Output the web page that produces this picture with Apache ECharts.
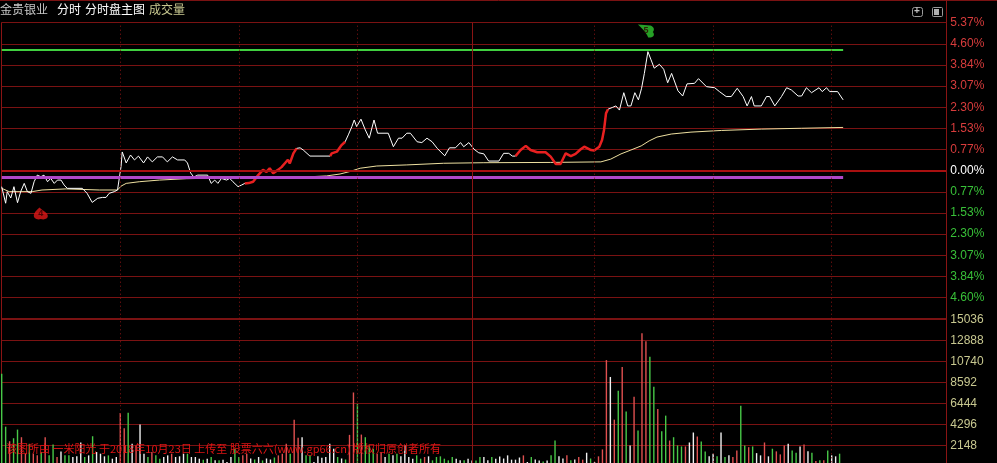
<!DOCTYPE html>
<html><head><meta charset="utf-8">
<script src="https://cdn.jsdelivr.net/npm/echarts@6/dist/echarts.min.js"></script>
<style>html,body{margin:0;padding:0;background:#000;}#c{width:997px;height:463px;}</style>
</head><body><div id="c"></div>
<script>
// ---------- data ----------
const STEP = 0.7671;                       // % per price gridline
const pctLabels = ['0.00%','0.77%','1.53%','2.30%','3.07%','3.84%','4.60%','5.37%'];
const VOL_STEP = 2148;
const volLabels = ['','2148','4296','6444','8592','10740','12888','15036'];
const halfHourLines = [30,60,90,150,180,210];
const middayLine = 119;
const lastMinute = 212.9;
const dayHigh = 4.38;
const refLevel = -0.25;
const headerTexts = ['金贵银业','分时','分时盘主图','成交量'];
const footerText = '该图所由 一米阳光 于2018年10月23日 上传至 股票六六(www.gp66.cn) 版权归原创者所有';

const price = [
[0,-0.58],[1,-1.18],[1.4,-0.76],[2.3,-0.99],[3.1,-0.58],[4.0,-1.16],[4.8,-0.76],[5.7,-0.46],[6.5,-0.76],[7.4,-0.82],[8.2,-0.40],[9.0,-0.16],[9.9,-0.22],[10.7,-0.16],[11.6,-0.40],[12.4,-0.28],[13.3,-0.46],[14.1,-0.34],[15.0,-0.34],[15.8,-0.52],[16.6,-0.64],[20.4,-0.64],[21.6,-0.82],[22.9,-1.15],[24.3,-1.00],[25.5,-0.97],[26.4,-0.97],[27.2,-0.82],[28.5,-0.76],[29.3,-0.70],[30.2,0.15],[30.5,0.68],[31.5,0.28],[32.6,0.57],[33.6,0.39],[34.6,0.53],[35.9,0.28],[36.9,0.50],[38.1,0.32],[39.4,0.50],[40.7,0.50],[41.9,0.32],[43.2,0.50],[44.5,0.39],[46.3,0.39],[47.0,0.28],[47.8,-0.08],[48.6,-0.23],[49.6,-0.16],[52.1,-0.16],[53.0,-0.46],[53.9,-0.34],[54.7,-0.46],[55.6,-0.28],[56.9,-0.34],[57.7,-0.28],[58.5,-0.40],[59.8,-0.58],[60.7,-0.52],[61.5,-0.46],[62.5,-0.45],[63.6,-0.40],[64.9,-0.16],[66.1,0.03],[67.0,-0.04],[67.8,0.09],[68.7,-0.09],[69.9,0.03],[70.8,0.13],[71.7,0.28],[72.4,0.39],[72.9,0.27],[73.8,0.63],[74.6,0.81],[75.5,0.83],[76.3,0.75],[78.0,0.53],[83.1,0.53],[83.5,0.63],[84.8,0.69],[86.0,0.93],[86.9,1.05],[87.7,1.30],[88.6,1.60],[89.2,1.84],[89.8,1.60],[90.9,1.87],[92.0,1.48],[93.0,1.18],[94.2,1.84],[95.1,1.36],[97.8,1.36],[99.1,0.87],[100.4,1.18],[101.3,1.18],[102.5,1.36],[103.4,1.36],[105.1,1.05],[106.3,1.02],[107.6,1.18],[108.9,1.05],[110.2,0.81],[112.1,0.54],[113.3,0.83],[114.8,0.83],[116.1,1.02],[116.9,0.87],[118.2,1.02],[119.5,0.78],[120.7,0.65],[122.0,0.61],[123.2,0.35],[125.8,0.35],[127.0,0.63],[128.3,0.63],[129.2,0.53],[130.0,0.53],[131.3,0.75],[132.6,0.90],[133.8,0.75],[135.5,0.67],[137.6,0.67],[138.9,0.51],[140.2,0.24],[141.4,0.24],[142.7,0.63],[144.0,0.53],[145.2,0.61],[146.5,0.78],[147.4,0.87],[149.1,0.75],[149.9,0.73],[151.2,0.87],[151.9,1.11],[152.4,1.48],[152.9,2.08],[153.4,2.23],[154.6,2.30],[155.4,2.35],[156.3,2.20],[157.4,2.83],[158.4,2.35],[159.2,2.35],[160.2,2.83],[161.1,2.57],[161.9,2.99],[162.6,3.53],[163.5,4.32],[164.3,4.02],[165.1,3.72],[166.4,3.86],[167.5,3.68],[168.5,3.19],[169.5,3.53],[171.1,2.90],[172.3,2.71],[173.4,3.15],[175.3,3.17],[176.3,3.34],[178.3,3.05],[180.4,3.01],[181.6,2.87],[183.3,2.69],[184.6,2.69],[186.1,2.99],[187.6,2.69],[188.6,2.35],[189.7,2.69],[190.4,2.35],[192.2,2.35],[193.5,2.69],[194.3,2.69],[195.6,2.35],[197.3,2.69],[198.6,3.01],[199.8,2.93],[201.5,2.71],[202.4,2.71],[203.6,3.01],[204.9,2.83],[206.8,3.01],[207.6,2.87],[208.7,3.01],[209.5,2.87],[211.5,2.87],[212.9,2.57]
];
const redRanges = [[61.5,74.6],[83.1,86.9],[130.0,153.4]];
const avg = [
[0,-0.64],[1.9,-0.76],[7.7,-0.76],[10.2,-0.70],[16.3,-0.66],[24.7,-0.70],[29.3,-0.70],[30.2,-0.56],[31.5,-0.46],[34.8,-0.40],[39.9,-0.34],[46.7,-0.29],[61.0,-0.25],[73.7,-0.25],[82.2,-0.19],[85.6,-0.12],[88.1,-0.03],[90.7,0.09],[94.9,0.17],[102.5,0.21],[111.8,0.27],[122.0,0.29],[138.9,0.30],[151.6,0.32],[154.1,0.42],[156.7,0.61],[159.2,0.75],[161.8,0.90],[163.8,1.08],[165.8,1.22],[169.4,1.33],[174.4,1.40],[182.1,1.46],[192.2,1.51],[202.4,1.54],[212.9,1.57]
];
const vol = [
9480,4060,2570,2875,3760,2980,1290,2300,1290,1120,
1460,2980,1120,2235,950,1520,1120,1120,950,1020,
2440,950,1120,3080,1460,1290,1020,1120,780,950,
5450,3890,5490,2300,2140,4270,1290,950,1460,1120,
780,950,1120,1290,950,1020,1290,1290,950,950,
780,680,780,950,610,610,680,440,950,1800,
950,1120,1290,800,700,950,600,800,700,900,
1120,1290,2300,1290,4780,2920,2980,1120,1120,440,
1020,880,950,2300,1800,950,800,700,3220,7560,
6370,3250,2980,2140,1800,1290,1460,950,1290,1120,
1290,1020,2140,950,780,1120,780,950,1020,610,
950,1020,780,610,950,780,610,610,780,600,
600,950,950,610,950,780,1000,800,1120,680,
680,900,1120,440,950,700,600,500,600,1120,
2640,1020,800,1120,610,700,950,680,1390,800,
440,1020,1730,10880,9150,4780,7730,10170,5620,2140,
7120,3660,13630,12810,11220,8140,5870,3590,5190,2640,
2980,2140,2035,2035,2440,3460,3050,2540,1525,1020,
1290,1020,3460,950,1120,950,1630,6200,2140,1960,
2035,1350,1120,2440,1020,1800,1530,1220,2140,2300,
1630,1390,2035,2235,1530,1390,540,610,610,1630,
1120,1020,1290
];
const volColor = (
'ggrggrrgrr'+'grggrwggww'+'wgwgwwwgww'+'rrgwrwwgrg'+'gwwrwwwgww'+
'wgwgwgwwwg'+'grrwgwgwwg'+'rrrgrrwggw'+'wwwwwgwgrr'+'grgggrrwgw'+
'gwwwwggrwg'+'gggggwwgww'+'ggwwgwwwww'+'wwrwgwwgwg'+'gwwrgwrrwg'+
'wrrrwrgrgw'+'rgrrggrggr'+'gggrwwrggw'+'wgwgwrrggr'+'gwwrwgrrrw'+
'ggwrwgrgrg'+'wwg');
const signals = [{m:9.9, p:-1.55, c:'#e01818', t:'4'}, {m:163.0, p:5.07, c:'#30c830', t:'5'}];

// ---------- chart ----------
const colorMap = {r:'#e05050', g:'#48c848', w:'#f0f0f0'};
const chart = echarts.init(document.getElementById('c'), null, {renderer:'canvas'});
const GL = 1.7, GR = 50.7;
const vMarks = halfHourLines.map(v => ({xAxis:v, lineStyle:{type:[1,3], color:'#8a1414', width:1}}))
  .concat([{xAxis:middayLine, lineStyle:{type:'solid', color:'#8a1414', width:1}}]);

const series = [
  {type:'line', name:'avg', xAxisIndex:0, yAxisIndex:0, data:avg, showSymbol:false, z:2,
   lineStyle:{color:'#eee0a0', width:1}, animation:false,
   markLine:{silent:true, symbol:'none', label:{show:false}, animation:false,
     data: vMarks.concat([{yAxis:0, lineStyle:{type:'solid', color:'#a81010', width:2}}])}},
  {type:'line', xAxisIndex:0, yAxisIndex:0, data:[[0,refLevel],[lastMinute,refLevel]], showSymbol:false, z:4,
   lineStyle:{color:'#b048c8', width:3}, animation:false},
  {type:'line', xAxisIndex:0, yAxisIndex:0, data:[[0,dayHigh],[lastMinute,dayHigh]], showSymbol:false, z:4,
   lineStyle:{color:'#40d040', width:2}, animation:false},
  {type:'line', name:'price', xAxisIndex:0, yAxisIndex:0, data:price, showSymbol:false, z:3,
   lineStyle:{color:'#ffffff', width:1}, animation:false}
];
redRanges.forEach(r => series.push({type:'line', xAxisIndex:0, yAxisIndex:0, showSymbol:false, z:3,
  data: price.filter(p => p[0] >= r[0] - 1e-9 && p[0] <= r[1] + 1e-9),
  lineStyle:{color:'#e82020', width:2.5}, animation:false}));
series.push({type:'scatter', xAxisIndex:0, yAxisIndex:0, z:6, animation:false,
  data: signals.map(s => ({value:[s.m, s.p], itemStyle:{color:s.c},
    symbol: s.t === '4'
      ? 'path://M2,11 C0,8 2,4 6,0 C8,3 13,5 13,9 C13,12 10,13 7,12 C5,13 3,12 2,11 Z'
      : 'path://M0,0 L11,1 C14,2 15,5 13,7 C15,9 14,12 11,12 L9,12 C8,9 6,6 0,0 Z',
    symbolSize: s.t === '4' ? [14,12] : [16,13]})),
  label:{show:true, position:'inside', formatter:p => signals[p.dataIndex].t, fontSize:9, fontWeight:'bold',
    color:'#300000', fontFamily:'Liberation Sans, Arial'}});
series.push({type:'bar', xAxisIndex:1, yAxisIndex:1, barWidth:1.4, z:2, animation:false,
  data: vol.map((v,i) => ({value:[i, v], itemStyle:{color: colorMap[volColor[i]]}})),
  markLine:{silent:true, symbol:'none', label:{show:false}, animation:false, data: vMarks}});

const fontLat = 'Liberation Sans, Arial, sans-serif';
const fontCJK = '"Noto Sans CJK SC", sans-serif';
chart.setOption({
  backgroundColor:'#000',
  animation:false,
  grid:[
    {left:GL, right:GR, top:22.7, height:296, outerBoundsMode:'none', containLabel:false},
    {left:GL, right:GR, top:319.5, height:146.8, outerBoundsMode:'none', containLabel:false}
  ],
  xAxis:[
    {gridIndex:0, type:'value', min:0, max:239, show:false},
    {gridIndex:1, type:'value', min:0, max:239, show:false}
  ],
  yAxis:[
    {gridIndex:0, type:'value', position:'right', min:-7*STEP, max:7*STEP, interval:STEP,
     axisLine:{show:true, lineStyle:{color:'#8a1414'}}, axisTick:{show:false},
     axisLabel:{margin:4, fontSize:12, fontFamily:fontLat, showMinLabel:true, showMaxLabel:true,
       formatter:v => { const k = Math.round(v/STEP); return k === -7 ? '' : pctLabels[Math.abs(k)]; },
       color:v => { const k = Math.round(v/STEP); return k > 0 ? '#d83c3c' : (k < 0 ? '#38c038' : '#ffffff'); }},
     splitLine:{show:true, lineStyle:{color:'#7a1212', width:1}}},
    {gridIndex:1, type:'value', position:'right', min:0, max:7*VOL_STEP, interval:VOL_STEP,
     axisLine:{show:true, lineStyle:{color:'#8a1414'}}, axisTick:{show:false},
     axisLabel:{margin:4, fontSize:12, fontFamily:fontLat, color:'#c8c890', showMaxLabel:true,
       formatter:v => volLabels[Math.round(v/VOL_STEP)] || ''},
     splitLine:{show:true, lineStyle:{color:'#7a1212', width:1}}}
  ],
  series: series,
  graphic:[
    {type:'line', shape:{x1:0, y1:0.5, x2:997, y2:0.5}, style:{stroke:'#7a1212', lineWidth:1}, silent:true},
    {type:'line', shape:{x1:946.5, y1:0, x2:946.5, y2:463}, style:{stroke:'#8a1414', lineWidth:1}, silent:true},
    {type:'text', left:0, top:3, style:{text:headerTexts[0], fill:'#c8c8c8', font:'12px '+fontCJK}},
    {type:'text', left:57, top:3, style:{text:headerTexts[1], fill:'#ffffff', font:'12px '+fontCJK}},
    {type:'text', left:85, top:3, style:{text:headerTexts[2], fill:'#ffffff', font:'12px '+fontCJK}},
    {type:'text', left:149, top:3, style:{text:headerTexts[3], fill:'#c8c890', font:'12px '+fontCJK}},
    {type:'rect', shape:{x:912.5, y:7.5, width:10, height:9, r:2}, style:{fill:'none', stroke:'#9a9a9a', lineWidth:1}, silent:true},
    {type:'text', x:914, y:6, style:{text:'+', fill:'#c0c0c0', font:'bold 10px '+fontLat}},
    {type:'rect', shape:{x:932.5, y:7.5, width:10, height:9, r:1}, style:{fill:'none', stroke:'#9a9a9a', lineWidth:1}, silent:true},
    {type:'rect', shape:{x:934, y:9, width:5, height:6}, style:{fill:'#b0b0b0'}, silent:true},
    {type:'text', left:6, top:443, z:100, style:{text:footerText, fill:'#e01414', font:'11px '+fontCJK}}
  ]
});
</script>
</body></html>
